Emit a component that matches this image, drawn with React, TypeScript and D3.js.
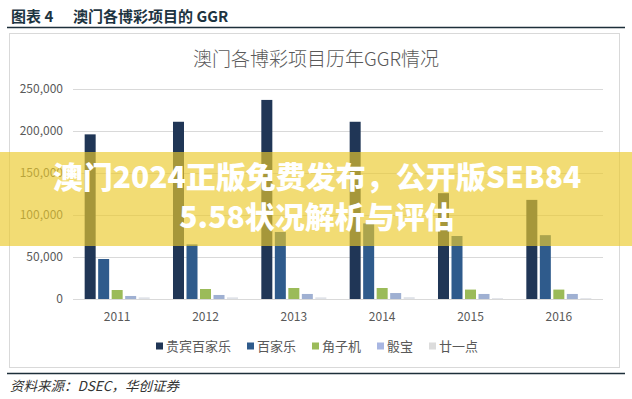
import React from "react";
import * as d3 from "d3";

const years = ["2011", "2012", "2013", "2014", "2015", "2016"];
const seriesNames = ["贵宾百家乐", "百家乐", "角子机", "骰宝", "廿一点"];
const vipBaccarat = [196000, 211000, 237000, 211000, 126000, 118000];
const massBaccarat = [47600, 65000, 79800, 90000, 75000, 76000];
const slots = [10700, 11900, 13100, 13100, 11200, 11200];
const sicBo = [3600, 4800, 6000, 7100, 6000, 6000];
const blackjack = [2000, 2000, 2000, 2200, 1000, 1000];
const yTicks = [0, 50000, 100000, 150000, 200000, 250000];

const seriesValues = [vipBaccarat, massBaccarat, slots, sicBo, blackjack];
const barColors = ["#203656", "#2f5b8c", "#9bbb59", "#9fb0d2", "#dfe2e8"];
const legendColors = ["#203656", "#2f5b8c", "#9bbb59", "#a8b6e2", "#dcdcdc"];

const FONT = "'Noto Sans CJK SC', 'Noto Sans', sans-serif";

export default function App() {
  const W = 632;
  const H = 399;
  const plotLeft = 73;
  const plotRight = 603;
  const y = d3.scaleLinear().domain([0, 250000]).range([299, 89]);
  const x0 = d3
    .scaleBand<string>()
    .domain(years)
    .range([plotLeft, plotRight])
    .paddingInner(0.264)
    .paddingOuter(0.132);
  const x1 = d3
    .scaleBand<string>()
    .domain(seriesNames)
    .range([0, x0.bandwidth()])
    .paddingInner(0.185)
    .paddingOuter(0);

  const legendFont = 13;
  const sq = 7;
  const gapSqText = 3;
  const gapItems = 16;
  const itemWidths = seriesNames.map((n) => sq + gapSqText + n.length * legendFont);
  const legendTotal = d3.sum(itemWidths) + gapItems * (seriesNames.length - 1);
  let lx = 317 - legendTotal / 2;
  const legendItems = seriesNames.map((n, i) => {
    const item = { name: n, x: lx, color: legendColors[i] };
    lx += itemWidths[i] + gapItems;
    return item;
  });

  return (
    <svg
      width={W}
      height={H}
      style={{ position: "absolute", left: 0, top: 0, background: "#fff" }}
      fontFamily={FONT}
    >
      <rect x={0} y={0} width={W} height={H} fill="#fff" />
      {/* header */}
      <text x={11} y={22} fontSize={15} fontWeight={700} fill="#1d3441">
        图表 4
      </text>
      <text x={73} y={22} fontSize={15} fontWeight={700} fill="#1d3441">
        澳门各博彩项目的 GGR
      </text>
      <line x1={7} x2={625} y1={27.5} y2={27.5} stroke="#1d2f3a" strokeWidth={1.5} />

      {/* chart box */}
      <rect x={9.5} y={33.5} width={610} height={334} fill="#fff" stroke="#d9d9d9" strokeWidth={1} />

      {/* title */}
      <text x={316} y={66} fontSize={19} textAnchor="middle" fill="#595959" fontWeight={300}>
        澳门各博彩项目历年GGR情况
      </text>

      {/* grid + y ticks */}
      {yTicks.map((t) => (
        <g key={t}>
          <line
            x1={plotLeft}
            x2={plotRight}
            y1={Math.round(y(t)) + 0.5}
            y2={Math.round(y(t)) + 0.5}
            stroke="#d9d9d9"
            strokeWidth={1}
          />
          <text
            x={63}
            y={y(t)}
            dy="0.35em"
            fontSize={12}
            textAnchor="end"
            fill="#595959"
          >
            {d3.format(",")(t)}
          </text>
        </g>
      ))}

      {/* bars */}
      {years.map((yr, i) => (
        <g key={yr} transform={`translate(${x0(yr)},0)`}>
          {seriesNames.map((s, j) => {
            const v = seriesValues[j][i];
            return (
              <rect
                key={s}
                x={x1(s)}
                y={y(v)}
                width={x1.bandwidth()}
                height={y(0) - y(v)}
                fill={barColors[j]}
              />
            );
          })}
          <text
            x={x0.bandwidth() / 2}
            y={321}
            fontSize={12}
            textAnchor="middle"
            fill="#595959"
          >
            {yr}
          </text>
        </g>
      ))}

      {/* legend */}
      {legendItems.map((it) => (
        <g key={it.name}>
          <rect x={it.x} y={342.5} width={sq} height={sq} fill={it.color} />
          <text x={it.x + sq + gapSqText} y={346} dy="0.35em" fontSize={legendFont} fill="#595959">
            {it.name}
          </text>
        </g>
      ))}

      {/* footer */}
      <line x1={7} x2={625} y1={373.5} y2={373.5} stroke="#1d2f3a" strokeWidth={1.5} />
      <text x={10} y={391} fontSize={13.5} fontStyle="italic" fill="#333">
        资料来源：DSEC，华创证券
      </text>

      {/* overlay band */}
      <rect x={0} y={152} width={W} height={94} fill="rgb(235,202,44)" fillOpacity={0.66} />
      <text
        x={317}
        y={177}
        dy="0.35em"
        fontSize={30}
        fontWeight={900}
        textAnchor="middle"
        fill="#fff"
      >
        澳门2024正版免费发布，公开版SEB84
      </text>
      <text
        x={317}
        y={217}
        dy="0.35em"
        fontSize={30}
        fontWeight={900}
        textAnchor="middle"
        fill="#fff"
      >
        5.58状况解析与评估
      </text>
    </svg>
  );
}
